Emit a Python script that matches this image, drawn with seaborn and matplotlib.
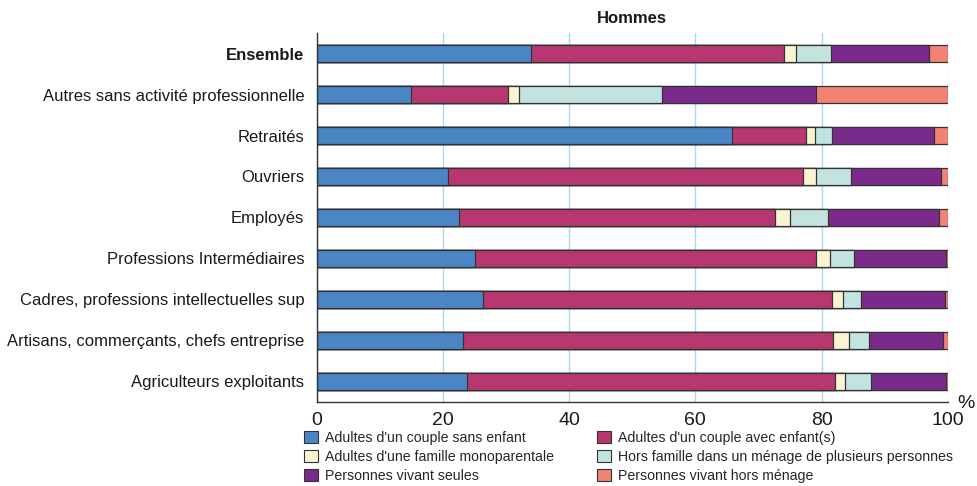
"""Répartition des hommes selon le type de ménage, par catégorie socioprofessionnelle"""

import matplotlib

matplotlib.use("Agg")
import matplotlib.pyplot as plt
import numpy as np
import pandas as pd
import seaborn as sns
from matplotlib.patches import Patch

# %% Data (parts en %)

categories = [
    "Ensemble",
    "Autres sans activité professionnelle",
    "Retraités",
    "Ouvriers",
    "Employés",
    "Professions Intermédiaires",
    "Cadres, professions intellectuelles sup",
    "Artisans, commerçants, chefs entreprise",
    "Agriculteurs exploitants",
]

series = [
    "Adultes d'un couple sans enfant",
    "Adultes d'un couple avec enfant(s)",
    "Adultes d'une famille monoparentale",
    "Hors famille dans un ménage de plusieurs personnes",
    "Personnes vivant seules",
    "Personnes vivant hors ménage",
]

couple_sans_enfant = [33.9, 14.9, 65.8, 20.8, 22.5, 25.0, 26.3, 23.1, 23.8]
couple_avec_enfant = [40.1, 15.4, 11.7, 56.2, 50.2, 54.2, 55.3, 58.7, 58.3]
monoparentale = [1.9, 1.7, 1.4, 2.2, 2.3, 2.1, 1.8, 2.5, 1.6]
hors_famille = [5.6, 22.7, 2.7, 5.4, 6.1, 3.8, 2.8, 3.2, 4.1]
seules = [15.6, 24.5, 16.3, 14.3, 17.6, 14.6, 13.3, 11.7, 11.9]
hors_menage = [2.9, 20.8, 2.1, 1.1, 1.3, 0.3, 0.5, 0.8, 0.3]

colors = ["#4a86c6", "#b73770", "#faf5d0", "#c2e3e0", "#7a2a8b", "#f28274"]

# %% Cumul pour l'empilement

shares = np.array(
    [couple_sans_enfant, couple_avec_enfant, monoparentale, hors_famille, seules, hors_menage]
)
cumul = shares.cumsum(axis=0)

data = pd.DataFrame(
    {
        "categorie": np.tile(categories, len(series)),
        "serie": np.repeat(series, len(categories)),
        "cumul": cumul.ravel(),
    }
)

# %% Plot

sns.set_style("white")
plt.rcParams["font.family"] = ["Liberation Sans", "DejaVu Sans"]

fig = plt.figure(figsize=(9.78, 4.86), dpi=100)
ax = fig.add_axes([0.324, 0.173, 0.645, 0.759])

# les séries les plus longues d'abord, les plus courtes par-dessus
for name, color in reversed(list(zip(series, colors))):
    sns.barplot(
        data=data[data["serie"] == name],
        x="cumul",
        y="categorie",
        order=categories,
        orient="h",
        color=color,
        saturation=1,
        width=0.42,
        edgecolor="#333333",
        linewidth=0.9,
        ax=ax,
    )

ax.set(xlim=(0, 100), ylim=(8.5, -0.5), xlabel="", ylabel="")
ax.set_xticks(range(0, 101, 20))
ax.set_axisbelow(True)
ax.grid(axis="x", color="#a9d8f2", linewidth=1)
ax.grid(axis="y", visible=False)

for side in ["top", "right"]:
    ax.spines[side].set_visible(False)
for side in ["left", "bottom"]:
    ax.spines[side].set_color("#333333")
    ax.spines[side].set_linewidth(1)

ax.tick_params(axis="x", direction="out", length=5, color="#333333", labelsize=14, pad=2,
               labelcolor="#1a1a1a")
ax.tick_params(axis="y", which="major", length=0, labelsize=12, pad=9, labelcolor="#1a1a1a")
ax.set_yticks(np.arange(-0.5, 8.0, 1), minor=True)
ax.tick_params(axis="y", which="minor", direction="out", length=4, color="#333333")
ax.get_yticklabels()[0].set_fontweight("bold")

ax.set_title("Hommes", fontsize=12, fontweight="bold", pad=7, color="#1a1a1a")
fig.text(0.997, 0.170, "%", fontsize=14, ha="right", va="center", color="#1a1a1a")

# légende remplie ligne par ligne comme l'original
row_order = [0, 2, 4, 1, 3, 5]
handles = [Patch(facecolor=colors[i], edgecolor="#333333", linewidth=0.8) for i in row_order]
labels = [series[i] for i in row_order]
fig.legend(
    handles,
    labels,
    loc="upper left",
    bbox_to_anchor=(0.311, 0.114),
    ncol=2,
    frameon=False,
    fontsize=10.2,
    handlelength=1.0,
    handleheight=1.0,
    handletextpad=0.5,
    columnspacing=3.0,
    labelspacing=0.34,
    borderpad=0,
    borderaxespad=0,
)

fig.savefig("out.png", dpi=100)
